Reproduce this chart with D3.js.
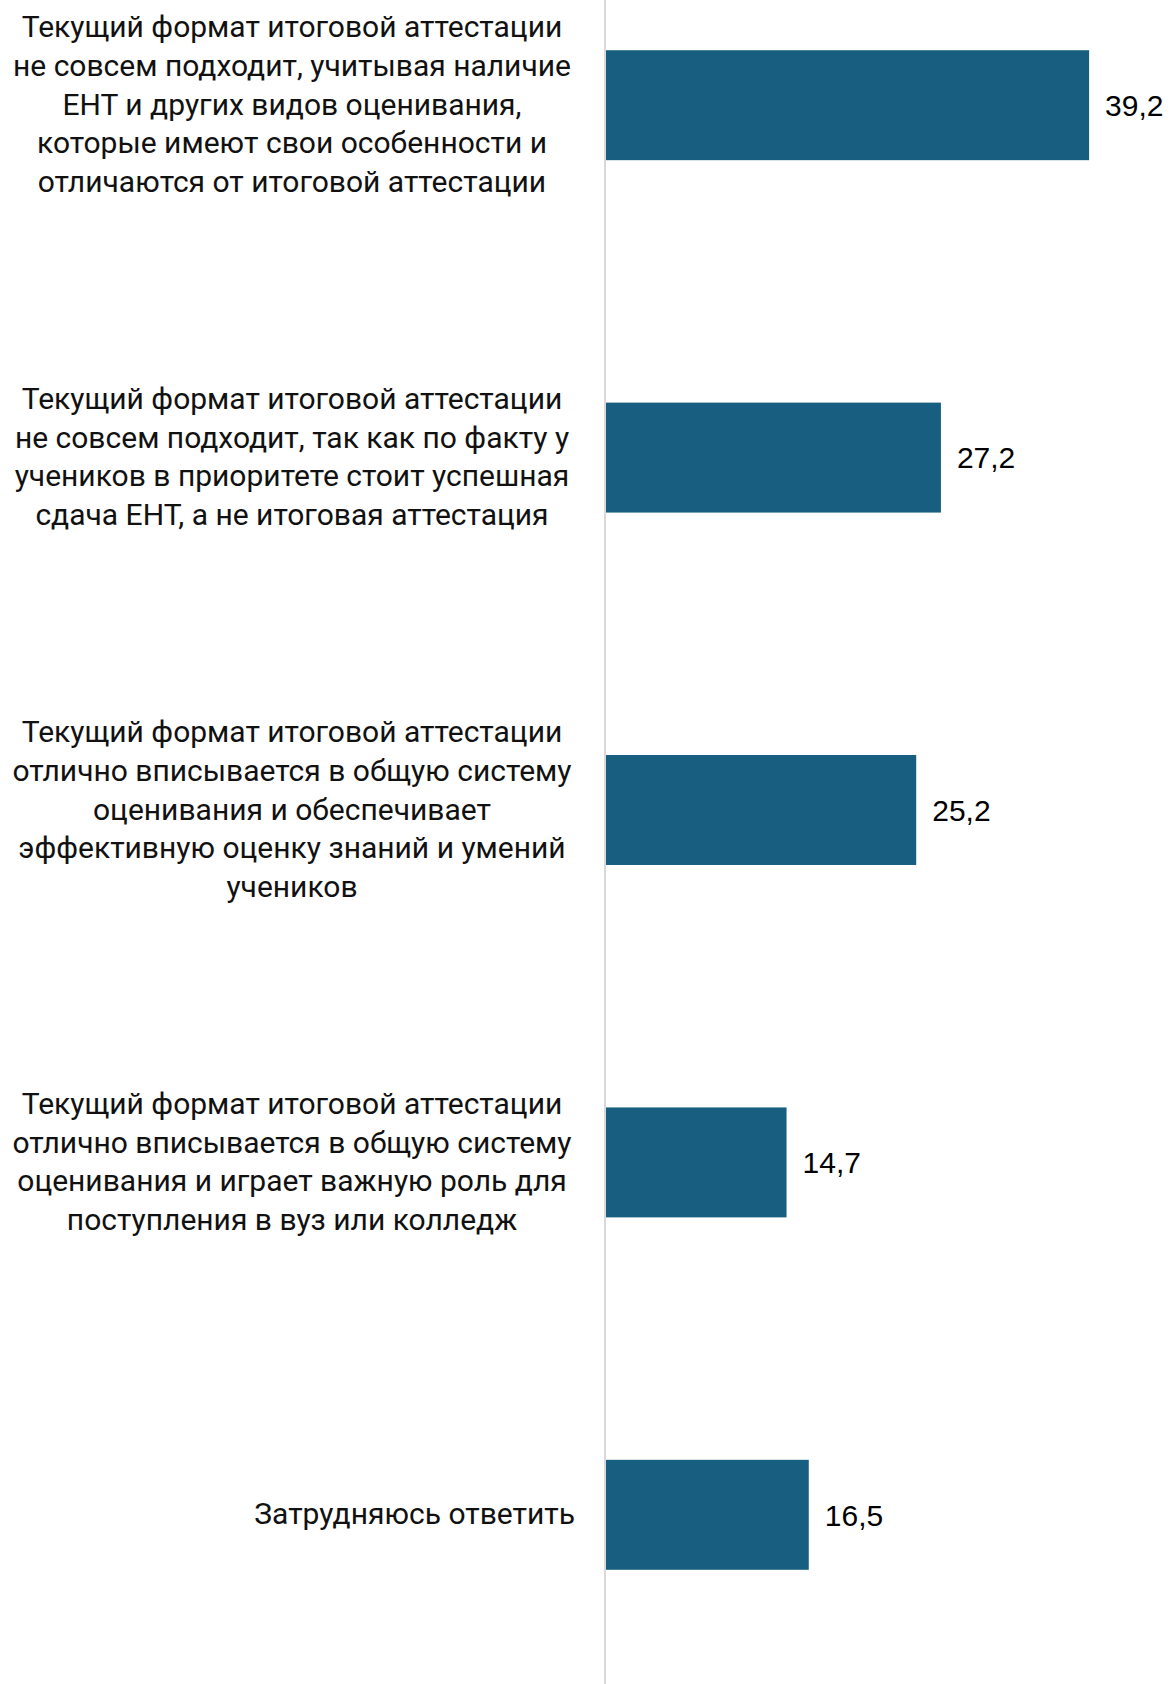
<!DOCTYPE html>
<html><head><meta charset="utf-8">
<script src="https://cdn.jsdelivr.net/npm/d3@7"></script>
<style>html,body{margin:0;padding:0;background:#fff;}svg{display:block;}</style>
</head><body>
<svg id="chart" width="1170" height="1684"></svg>
<script>
const categories = [
  ["Текущий формат итоговой аттестации","не совсем подходит, учитывая наличие","ЕНТ и других видов оценивания,","которые имеют свои особенности и","отличаются от итоговой аттестации"],
  ["Текущий формат итоговой аттестации","не совсем подходит, так как по факту у","учеников в приоритете стоит успешная","сдача ЕНТ, а не итоговая аттестация"],
  ["Текущий формат итоговой аттестации","отлично вписывается в общую систему","оценивания и обеспечивает","эффективную оценку знаний и умений","учеников"],
  ["Текущий формат итоговой аттестации","отлично вписывается в общую систему","оценивания и играет важную роль для","поступления в вуз или колледж"],
  ["Затрудняюсь ответить"]
];
const values = [39.2, 27.2, 25.2, 14.7, 16.5];
const valueLabels = ["39,2", "27,2", "25,2", "14,7", "16,5"];

const W = 1170, H = 1684;
const axisX = 605;
const svg = d3.select("#chart");
const idx = d3.range(values.length);

const x = d3.scaleLinear().domain([0, 45.75]).range([axisX, W]);
const y = d3.scaleBand().domain(idx).range([-71, 1691]).paddingInner(0.688).paddingOuter(0.344);

// bars
svg.selectAll("rect.bar").data(idx).join("rect")
  .attr("class","bar")
  .attr("x", x(0))
  .attr("y", i => y(i))
  .attr("width", i => x(values[i]) - x(0))
  .attr("height", y.bandwidth())
  .attr("fill", "#175e80");

// axis line
svg.append("line").attr("x1", axisX).attr("x2", axisX).attr("y1", 0).attr("y2", H)
  .attr("stroke", "#d9d9d9").attr("stroke-width", 2);

// value labels
svg.selectAll("text.val").data(idx).join("text")
  .attr("class","val")
  .attr("x", i => x(values[i]) + 16)
  .attr("y", i => y(i) + y.bandwidth()/2)
  .attr("dy", "0.36em")
  .attr("font-family", "'Liberation Sans', Arial, sans-serif")
  .attr("font-size", 30)
  .attr("fill", "#000")
  .text(i => valueLabels[i]);

// category labels
const lineH = 38.7;
const boxCenter = 292, boxRight = 575;
const fs = 30;
const g = svg.append("g");
idx.forEach(i => {
  const lines = categories[i];
  const cy = y(i) + y.bandwidth()/2 - 1;
  const single = lines.length === 1;
  const t = g.append("text")
    .attr("font-family", "Roboto, 'Noto Sans', sans-serif")
    .attr("font-size", fs)
    .attr("fill", "#111")
    .attr("text-anchor", single ? "end" : "middle");
  lines.forEach((ln, k) => {
    t.append("tspan")
      .attr("x", single ? boxRight : boxCenter)
      .attr("y", cy + (k - (lines.length - 1)/2) * lineH)
      .attr("dy", "0.35em")
      .text(ln);
  });
});
</script>
</body></html>
